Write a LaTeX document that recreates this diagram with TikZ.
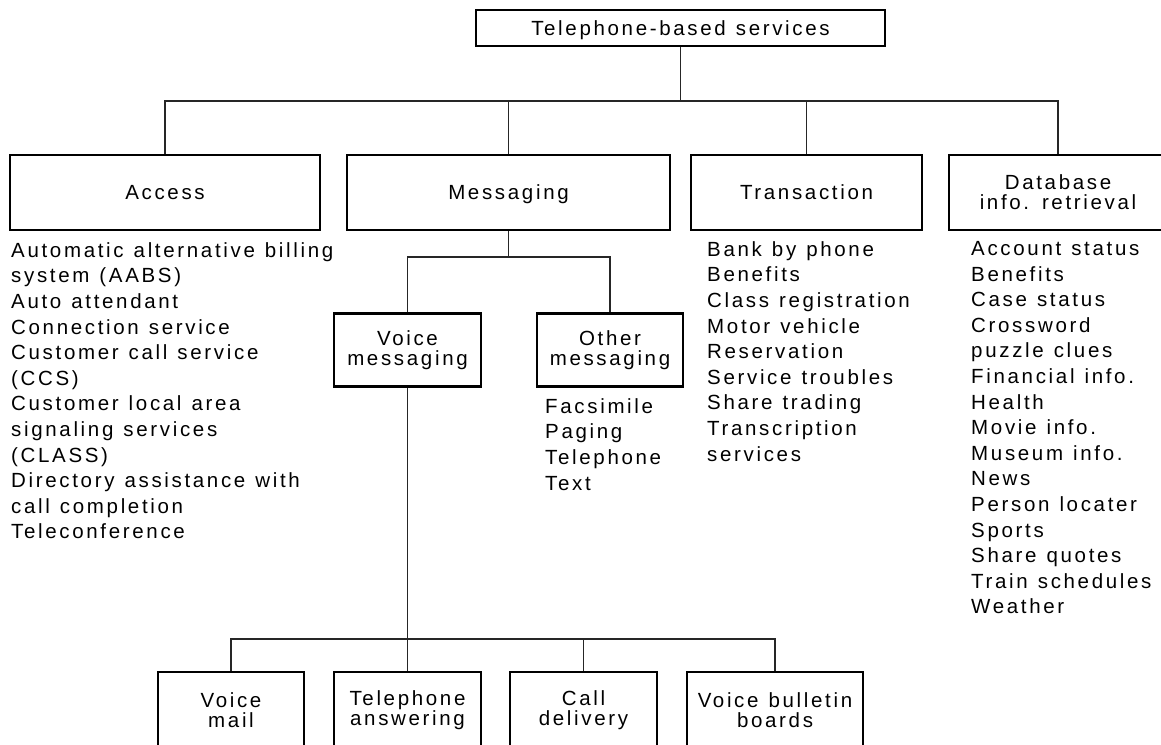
\documentclass[tikz,border=0pt]{standalone}
\usepackage{fontspec}
\setmainfont{Liberation Sans}[LetterSpace=13,WordSpace=1.2]
\begin{document}
\begin{tikzpicture}[x=1pt,y=-1pt,
  box/.style={draw=black,line width=2.3pt,rectangle,inner sep=0pt,align=center,
    font=\fontsize{20.5}{20}\selectfont},
  nodepth/.style={text depth=0pt},
  lst/.style={anchor=north west,inner sep=0pt,align=left,
    font=\fontsize{20.5}{25.6}\selectfont},
  conn/.style={draw=black!85,line width=1.1pt}]
\useasboundingbox (0,0) rectangle (1161,744);
\clip (0,0) rectangle (1161,744);
% top level
\node[box,nodepth,minimum width=409,minimum height=36] (tbs) at (680.5,28) {Telephone-based services};
\node[box,minimum width=310,minimum height=75] (access) at (165,192.5) {Access};
\node[box,nodepth,minimum width=323,minimum height=75] (msg) at (508.5,192.5) {Messaging};
\node[box,minimum width=231,minimum height=75] (trans) at (806.5,192.5) {Transaction};
\node[box,minimum width=218,minimum height=75] (db) at (1058,192.5) {Database\\info. retrieval};
% messaging level
\node[box,minimum width=147,minimum height=73] (vm) at (407.5,350) {Voice\\messaging};
\node[box,minimum width=146,minimum height=73] (om) at (610,350) {Other\\messaging};
% voice messaging level
\node[box,minimum width=146,minimum height=76] (vmail) at (231,710) {Voice\\mail};
\node[box,minimum width=147,minimum height=76] (ta) at (407.5,710) {Telephone\\answering};
\node[box,minimum width=147,minimum height=76] (cd) at (583.5,710) {Call\\delivery};
\node[box,minimum width=176,minimum height=76] (vbb) at (775,710) {Voice bulletin\\boards};
% lists
\node[lst] (laccess) at (11,242.2) {Automatic alternative billing\\system (AABS)\\Auto attendant\\Connection service\\Customer call service\\(CCS)\\Customer local area\\signaling services\\(CLASS)\\Directory assistance with\\call completion\\Teleconference};
\node[lst] (ltrans) at (707,241.2) {Bank by phone\\Benefits\\Class registration\\Motor vehicle\\Reservation\\Service troubles\\Share trading\\Transcription\\services};
\node[lst] (ldb) at (971,241.2) {Account status\\Benefits\\Case status\\Crossword\\puzzle clues\\Financial info.\\Health\\Movie info.\\Museum info.\\News\\Person locater\\Sports\\Share quotes\\Train schedules\\Weather};
\node[lst] (lom) at (545,398.2) {Facsimile\\Paging\\Telephone\\Text};
% connectors
\coordinate (bar) at (680.5,101);
\coordinate (mbar) at (508.5,257);
\coordinate (vbar) at (407.5,639);
\draw[conn] (tbs.south) -- (bar);
\draw[conn] (access.north) |- (bar) -| (db.north);
\draw[conn] (msg.north) -- (msg.north |- bar);
\draw[conn] (trans.north) -- (trans.north |- bar);
\draw[conn] (msg.south) -- (mbar);
\draw[conn] (vm.north) |- (mbar) -| (om.north);
\draw[conn] (vm.south) -- (ta.north);
\draw[conn] (vmail.north) |- (vbar) -| (vbb.north);
\draw[conn] (cd.north) -- (cd.north |- vbar);
\end{tikzpicture}
\end{document}
